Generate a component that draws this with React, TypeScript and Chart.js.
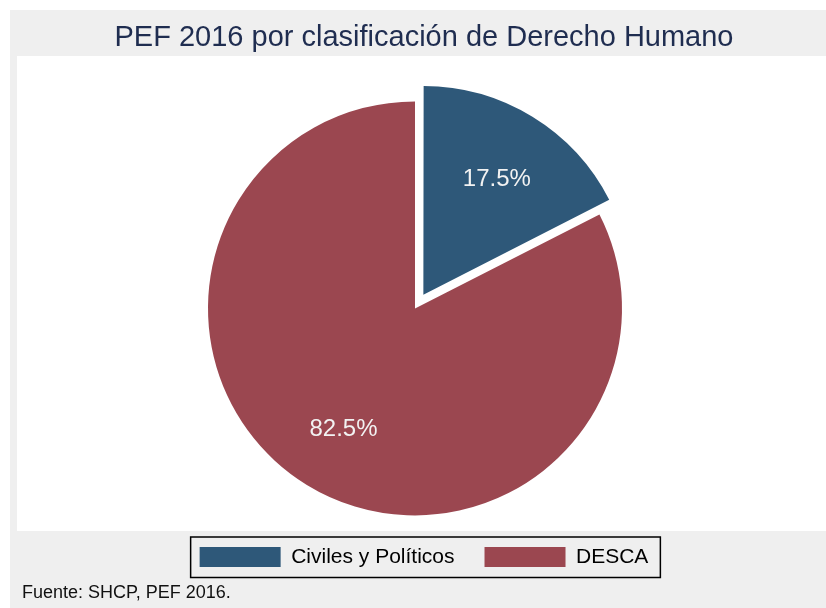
import { useEffect, useRef } from 'react';
import { Chart, registerables } from 'chart.js';

Chart.register(...registerables);

// ---- data ----
const categories = ['Civiles y Políticos', 'DESCA'];
const shares = [17.5, 82.5];
const sliceColors = ['#2e5879', '#9b4750'];
const sliceOffsets = [64, 0];
const titleText = 'PEF 2016 por clasificación de Derecho Humano';
const sourceNote = 'Fuente: SHCP, PEF 2016.';

const FONT = '"Liberation Sans", Arial, Helvetica, sans-serif';

const framePlugin = {
  id: 'frame',
  beforeDraw(chart: any) {
    const ctx = chart.ctx as CanvasRenderingContext2D;
    const w = chart.width;
    const h = chart.height;
    ctx.save();
    ctx.fillStyle = '#ffffff';
    ctx.fillRect(0, 0, w, h);
    ctx.fillStyle = '#efefef';
    ctx.fillRect(10, 10, w - 10, h - 10);
    ctx.fillStyle = '#ffffff';
    ctx.fillRect(17, 56, w - 17, 531 - 56);
    ctx.restore();
  },
  afterDraw(chart: any) {
    const ctx = chart.ctx as CanvasRenderingContext2D;
    const boxes = chart.legend?.legendHitBoxes || [];
    ctx.save();
    if (boxes.length) {
      const first = boxes[0];
      const last = boxes[boxes.length - 1];
      const left = first.left - 9;
      const right = last.left + last.width + 12;
      const top = first.top - 9.5;
      const bottom = first.top + first.height + 10;
      ctx.strokeStyle = '#000000';
      ctx.lineWidth = 1.5;
      ctx.strokeRect(left, top, right - left, bottom - top);
    }
    ctx.font = `18px ${FONT}`;
    ctx.fillStyle = '#111111';
    ctx.textAlign = 'left';
    ctx.textBaseline = 'middle';
    ctx.fillText(sourceNote, 22, 593);
    ctx.restore();
  },
};

const sliceLabelPlugin = {
  id: 'sliceLabels',
  afterDatasetsDraw(chart: any) {
    const ctx = chart.ctx as CanvasRenderingContext2D;
    const meta = chart.getDatasetMeta(0);
    ctx.save();
    ctx.font = `24px ${FONT}`;
    ctx.fillStyle = '#f2f2f2';
    ctx.textAlign = 'center';
    ctx.textBaseline = 'middle';
    meta.data.forEach((arc: any, i: number) => {
      const p = arc.getProps(['x', 'y', 'startAngle', 'endAngle', 'outerRadius'], true);
      const mid = (p.startAngle + p.endAngle) / 2;
      const shift = (sliceOffsets[i] || 0) / 4;
      const r = p.outerRadius * 0.67 + shift;
      ctx.fillText(`${shares[i].toFixed(1)}%`, p.x + Math.cos(mid) * r + 1, p.y + Math.sin(mid) * r + 3);
    });
    ctx.restore();
  },
};

export default function App() {
  const ref = useRef<HTMLCanvasElement>(null);

  useEffect(() => {
    if (!ref.current) return;
    const chart = new Chart(ref.current, {
      type: 'pie',
      data: {
        labels: categories,
        datasets: [
          {
            data: shares,
            backgroundColor: sliceColors,
            borderWidth: 0,
            offset: sliceOffsets,
            radius: 207,
          } as any,
        ],
      },
      options: {
        responsive: false,
        animation: false,
        devicePixelRatio: 1,
        events: [],
        layout: { padding: { left: 22, right: 0, top: 10, bottom: 30.5 } },
        plugins: {
          title: {
            display: true,
            text: titleText,
            color: '#1f2d50',
            font: { family: FONT, size: 29, weight: 'normal', lineHeight: 1.2 },
            padding: { top: 10.85, bottom: 44.65 },
          },
          subtitle: {
            display: true,
            text: '',
            position: 'right',
            font: { size: 1, lineHeight: 1 },
            padding: { top: 17, bottom: 0 },
          },
          legend: {
            position: 'bottom',
            labels: {
              boxWidth: 81,
              boxHeight: 20,
              padding: 30,
              color: '#000000',
              font: { family: FONT, size: 21 },
            },
          },
          tooltip: { enabled: false },
        },
      } as any,
      plugins: [framePlugin, sliceLabelPlugin],
    });
    return () => chart.destroy();
  }, []);

  return (
    <div style={{ position: 'absolute', left: 0, top: 0, width: 826, height: 608 }}>
      <canvas ref={ref} width={826} height={608} style={{ display: 'block', width: 826, height: 608 }} />
    </div>
  );
}
